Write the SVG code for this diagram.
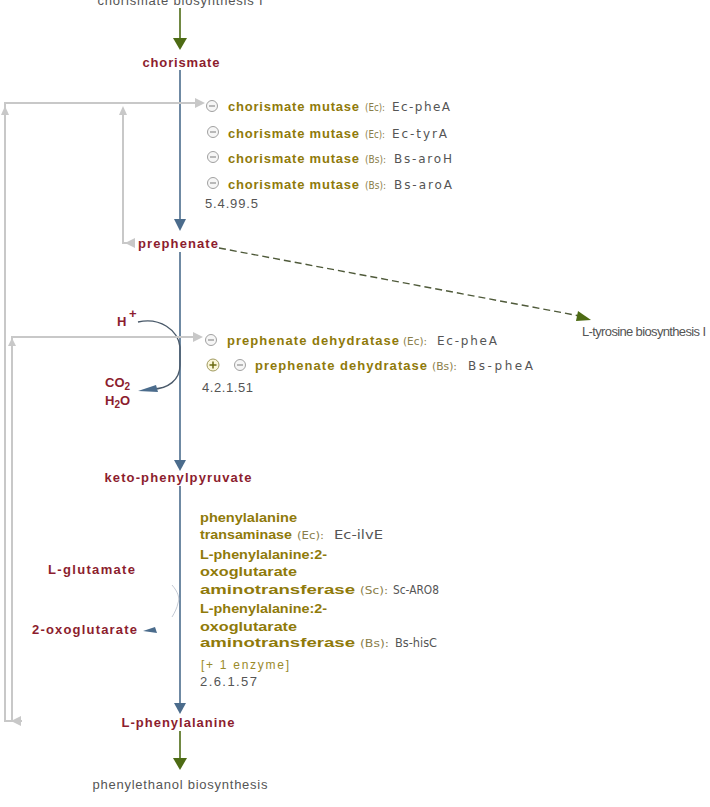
<svg xmlns="http://www.w3.org/2000/svg" width="710" height="807" viewBox="0 0 710 807">
<style>
.met{font-family:"Liberation Sans",Arial,sans-serif;font-weight:bold;font-size:13px;fill:#8c1d2e}
.enz{font-family:"Liberation Sans",Arial,sans-serif;font-weight:bold;font-size:13px;fill:#8f7a0a}
.org{font-family:"DejaVu Sans",Verdana,sans-serif;font-size:11px;fill:#8a7e4a}
.gene{font-family:"DejaVu Sans",Verdana,sans-serif;font-size:12px;fill:#555}
.ec{font-family:"Liberation Sans",Arial,sans-serif;font-size:13px;fill:#555}
.path{font-family:"Liberation Sans",Arial,sans-serif;font-size:13px;fill:#555}
.main{stroke:#4b6c8c;stroke-width:1.6;fill:none}
.mainh{fill:#4b6c8c}
.grn{stroke:#4d6b14;stroke-width:1.6;fill:none}
.grnh{fill:#4d6b14}
.fb{stroke:#c8c8c8;stroke-width:2;fill:none}
.fbh{fill:#c8c8c8}
.inh{fill:#f6f6f6;stroke:#a0a0a0;stroke-width:1}
.inhm{stroke:#909090;stroke-width:1.2}
</style>

<g id="connectors">
  <line class="grn" x1="180" y1="8" x2="180" y2="40"/>
  <polygon class="grnh" points="173,38 187,38 180,50"/>
  <line class="grn" x1="180" y1="731" x2="180" y2="760"/>
  <polygon class="grnh" points="173,758 187,758 180,770"/>
  <line class="main" x1="180" y1="70" x2="180" y2="221"/>
  <polygon class="mainh" points="174,219 186,219 180,231"/>
  <line class="main" x1="180" y1="252" x2="180" y2="462"/>
  <polygon class="mainh" points="174,460 186,460 180,471"/>
  <line class="main" x1="180" y1="486" x2="180" y2="705"/>
  <polygon class="mainh" points="174,703 186,703 180,714"/>
  <path d="M138,322 C160,317 178,330 180,347 L180,365 C180,380 168,389 152,389" stroke="#4a5a6a" stroke-width="1.4" fill="none"/>
  <polygon class="mainh" points="138,391 156,385 158,392"/>
  <path d="M172,585 C178,592 180,598 178,603 C177,608 175,612 172,617" stroke="#c4cad4" stroke-width="1" fill="none"/>
  <polygon class="mainh" points="143,631 155,627 157,633"/>
  <line x1="219" y1="248" x2="580" y2="316" stroke="#4f5a3a" stroke-width="1.4" stroke-dasharray="7,4"/>
  <polygon class="grnh" points="578,311 591,320 576,321"/>
  <polyline class="fb" points="5,722 5,103 196,103"/>
  <polygon class="fbh" points="195,98 205,103 195,108"/>
  <polygon class="fbh" points="1,115 5,106 9,115"/>
  <polyline class="fb" points="123,110 123,243 130,243"/>
  <polygon class="fbh" points="119,115 123,106 127,115"/>
  <polygon class="fbh" points="125,243 135,238 135,248"/>
  <polyline class="fb" points="12,722 12,337 194,337"/>
  <polygon class="fbh" points="193,332 203,337 193,342"/>
  <polygon class="fbh" points="8,346 12,338 16,346"/>
  <line class="fb" x1="5" y1="721" x2="22" y2="721"/>
  <polygon class="fbh" points="11,721 21,716 21,726"/>
</g>

<g id="pathway-top"><text class="path" x="180" y="5" text-anchor="middle" textLength="165">chorismate biosynthesis I</text></g>
<g id="pathway-bottom"><text class="path" x="180" y="789" text-anchor="middle" font-size="12" textLength="175">phenylethanol biosynthesis</text></g>
<g id="pathway-tyr"><text class="path" x="582" y="336" font-size="11" fill="#777" textLength="124">L-tyrosine biosynthesis I</text></g>

<g id="chorismate"><text class="met" x="181" y="67" text-anchor="middle" textLength="77">chorismate</text></g>
<g id="prephenate"><text class="met" x="178" y="248" text-anchor="middle" textLength="80">prephenate</text></g>
<g id="keto-phenylpyruvate"><text class="met" x="178" y="482" text-anchor="middle" textLength="147">keto-phenylpyruvate</text></g>
<g id="L-phenylalanine"><text class="met" x="178" y="727" text-anchor="middle" textLength="113">L-phenylalanine</text></g>
<g id="L-glutamate"><text class="met" x="48" y="574" textLength="87">L-glutamate</text></g>
<g id="oxoglutarate"><text class="met" x="32" y="634" textLength="105">2-oxoglutarate</text></g>
<g id="Hplus"><text class="met" x="117" y="326" font-size="14">H</text><text class="met" x="129" y="318" font-size="9">+</text></g>
<g id="CO2"><text class="met" x="105" y="387" font-size="14">CO<tspan font-size="10" dy="3">2</tspan></text></g>
<g id="H2O"><text class="met" x="105" y="405" font-size="14">H<tspan font-size="10" dy="3">2</tspan><tspan dy="-3">O</tspan></text></g>

<g id="chorismate-mutase">
  <circle class="inh" cx="212" cy="106" r="5.5"/><line class="inhm" x1="209" y1="106" x2="215" y2="106"/>
  <text class="enz" x="228" y="111" textLength="131">chorismate mutase</text>
  <text class="org" x="365" y="111" textLength="20" lengthAdjust="spacingAndGlyphs">(Ec):</text>
  <text class="gene" x="392" y="111" textLength="58">Ec-pheA</text>
  <circle class="inh" cx="213" cy="132" r="5.5"/><line class="inhm" x1="210" y1="132" x2="216" y2="132"/>
  <text class="enz" x="228" y="138" textLength="131">chorismate mutase</text>
  <text class="org" x="365" y="138" textLength="20" lengthAdjust="spacingAndGlyphs">(Ec):</text>
  <text class="gene" x="392" y="138" textLength="55">Ec-tyrA</text>
  <circle class="inh" cx="213" cy="157" r="5.5"/><line class="inhm" x1="210" y1="157" x2="216" y2="157"/>
  <text class="enz" x="228" y="163" textLength="131">chorismate mutase</text>
  <text class="org" x="365" y="163" textLength="21" lengthAdjust="spacingAndGlyphs">(Bs):</text>
  <text class="gene" x="394" y="163" textLength="58">Bs-aroH</text>
  <circle class="inh" cx="213" cy="183" r="5.5"/><line class="inhm" x1="210" y1="183" x2="216" y2="183"/>
  <text class="enz" x="228" y="189" textLength="131">chorismate mutase</text>
  <text class="org" x="365" y="189" textLength="21" lengthAdjust="spacingAndGlyphs">(Bs):</text>
  <text class="gene" x="394" y="189" textLength="58">Bs-aroA</text>
  <text class="ec" x="205" y="208" textLength="53">5.4.99.5</text>
</g>

<g id="prephenate-dehydratase">
  <circle class="inh" cx="211" cy="340" r="5.5"/><line class="inhm" x1="208" y1="340" x2="214" y2="340"/>
  <text class="enz" x="227" y="345" textLength="172">prephenate dehydratase</text>
  <text class="org" x="403" y="345" textLength="24" lengthAdjust="spacingAndGlyphs">(Ec):</text>
  <text class="gene" x="437" y="345" textLength="60">Ec-pheA</text>
  <circle cx="213" cy="365" r="6" fill="#fbf6d8" stroke="#a09a60" stroke-width="1"/>
  <line x1="209.5" y1="365" x2="216.5" y2="365" stroke="#6b6a10" stroke-width="1.5"/>
  <line x1="213" y1="361.5" x2="213" y2="368.5" stroke="#6b6a10" stroke-width="1.5"/>
  <circle class="inh" cx="240" cy="365" r="5.5"/><line class="inhm" x1="237" y1="365" x2="243" y2="365"/>
  <text class="enz" x="255" y="370" textLength="172">prephenate dehydratase</text>
  <text class="org" x="432" y="370" textLength="25" lengthAdjust="spacingAndGlyphs">(Bs):</text>
  <text class="gene" x="468" y="370" textLength="65">Bs-pheA</text>
  <text class="ec" x="202" y="392" textLength="51">4.2.1.51</text>
</g>

<g id="phenylalanine-transaminase">
  <text class="enz" x="200" y="522" textLength="97" lengthAdjust="spacingAndGlyphs">phenylalanine</text>
  <text class="enz" x="200" y="539" textLength="92" lengthAdjust="spacingAndGlyphs">transaminase</text>
  <text class="org" x="297" y="539" font-size="12" textLength="27" lengthAdjust="spacingAndGlyphs">(Ec):</text>
  <text class="gene" x="334" y="539" textLength="49" lengthAdjust="spacingAndGlyphs">Ec-ilvE</text>
  <text class="enz" x="200" y="559" textLength="127" lengthAdjust="spacingAndGlyphs">L-phenylalanine:2-</text>
  <text class="enz" x="200" y="576" textLength="97" lengthAdjust="spacingAndGlyphs">oxoglutarate</text>
  <text class="enz" x="200" y="594" textLength="155" lengthAdjust="spacingAndGlyphs">aminotransferase</text>
  <text class="org" x="360" y="594" font-size="12" textLength="28" lengthAdjust="spacingAndGlyphs">(Sc):</text>
  <text class="gene" x="393" y="594" textLength="46" lengthAdjust="spacingAndGlyphs">Sc-ARO8</text>
  <text class="enz" x="200" y="613" textLength="127" lengthAdjust="spacingAndGlyphs">L-phenylalanine:2-</text>
  <text class="enz" x="200" y="631" textLength="97" lengthAdjust="spacingAndGlyphs">oxoglutarate</text>
  <text class="enz" x="200" y="647" textLength="155" lengthAdjust="spacingAndGlyphs">aminotransferase</text>
  <text class="org" x="360" y="647" font-size="12" textLength="29" lengthAdjust="spacingAndGlyphs">(Bs):</text>
  <text class="gene" x="395" y="647" textLength="42" lengthAdjust="spacingAndGlyphs">Bs-hisC</text>
  <text x="201" y="669" font-family="Liberation Sans, Arial, sans-serif" font-size="12" fill="#9a8a2a" textLength="88">[+ 1 enzyme]</text>
  <text class="ec" x="200" y="686" font-size="12" textLength="57">2.6.1.57</text>
</g>
</svg>
